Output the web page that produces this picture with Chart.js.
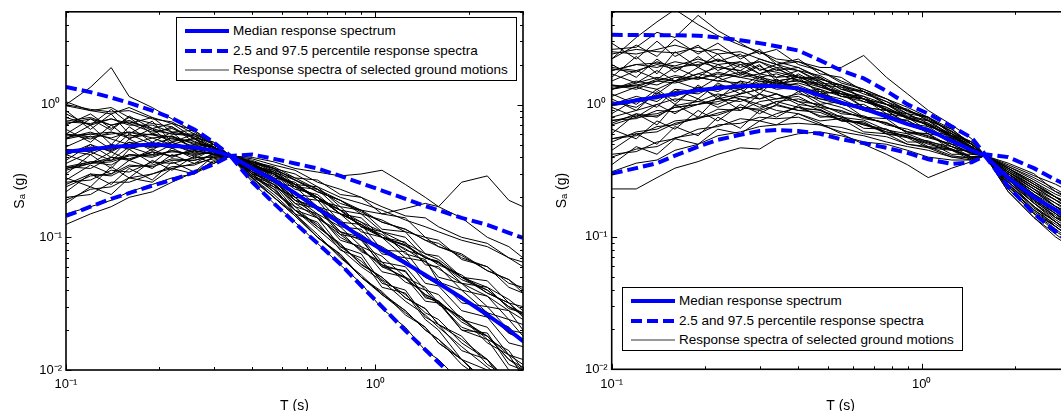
<!DOCTYPE html>
<html>
<head>
<meta charset="utf-8">
<script src="https://cdn.jsdelivr.net/npm/chart.js@4.4.1/dist/chart.umd.min.js"></script>
<style>
  html, body { margin: 0; padding: 0; background: #fff; width: 1061px; height: 411px; overflow: hidden; }
  .panel { position: absolute; top: 0; }
  .legend {
    position: absolute; box-sizing: border-box; width: 341px; height: 64px;
    border: 1px solid #000; background: #fff; color: #000;
    font: 13.5px "Liberation Sans", Arial, sans-serif;
  }
  .legend .row { position: absolute; left: 0; height: 16px; line-height: 16px; white-space: nowrap; }
  .legend svg { position: absolute; left: 8px; top: 5px; }
  .legend span { position: absolute; left: 56px; top: 0; }
</style>
</head>
<body>

<div class="panel" style="left:0;width:530px;height:411px">
  <canvas id="leftChart" width="530" height="411"></canvas>
</div>
<div class="panel" style="left:530px;width:547px;height:411px">
  <canvas id="rightChart" width="547" height="411"></canvas>
</div>

<div class="legend" id="legendLeft" style="left:176px;top:17px"></div>
<div class="legend" id="legendRight" style="left:622px;top:287px"></div>

<script>
// ---- data ----
const periods = [0.1, 0.12, 0.14, 0.16, 0.19, 0.22, 0.26, 0.3, 0.34, 0.4, 0.47, 0.55,
                 0.65, 0.77, 0.9, 1.05, 1.25, 1.45, 1.6, 1.9, 2.3, 2.7, 3.0];

const xDecades = [0.1, 1];
const xDecadeLabels = ["10⁻¹", "10⁰"];
const yDecades = [0.01, 0.1, 1];
const yDecadeLabels = ["10⁻²", "10⁻¹", "10⁰"];

const legendLabels = [
  "Median response spectrum",
  "2.5 and 97.5 percentile response spectra",
  "Response spectra of selected ground motions"
];

// left panel: conditioned at T = 0.34 s
const leftMedian = [0.44, 0.46, 0.48, 0.49, 0.50, 0.49, 0.475, 0.45, 0.41, 0.33, 0.27, 0.215,
                    0.165, 0.128, 0.10, 0.081, 0.064, 0.052, 0.045, 0.035, 0.026, 0.02, 0.0165];
const leftUpper = [1.36, 1.24, 1.13, 1.03, 0.90, 0.79, 0.65, 0.52, 0.41, 0.42, 0.39, 0.36,
                   0.33, 0.29, 0.255, 0.225, 0.195, 0.172, 0.16, 0.14, 0.124, 0.108, 0.099];
const leftLower = [0.145, 0.17, 0.195, 0.215, 0.245, 0.27, 0.31, 0.355, 0.41, 0.26, 0.18, 0.128,
                   0.09, 0.063, 0.043, 0.03, 0.0198, 0.0142, 0.0114, 0.0078, 0.0051, 0.0036, 0.0029];

const leftMotions = [
  [1.0, 1.35, 1.9, 1.15, 0.95, 0.78, 0.62, 0.5, 0.41, 0.36, 0.30, 0.25, 0.2, 0.16, 0.12, 0.1, 0.082, 0.065, 0.058, 0.045, 0.036, 0.028, 0.024],
  [0.125, 0.15, 0.17, 0.2, 0.22, 0.26, 0.31, 0.37, 0.41, 0.29, 0.22, 0.16, 0.115, 0.082, 0.06, 0.047, 0.033, 0.026, 0.021, 0.015, 0.0105, 0.008, 0.0062],
  [0.42, 0.5, 0.44, 0.52, 0.47, 0.5, 0.44, 0.47, 0.41, 0.37, 0.31, 0.27, 0.22, 0.19, 0.16, 0.15, 0.165, 0.18, 0.17, 0.26, 0.29, 0.19, 0.17],
  [0.75, 0.8, 0.7, 0.74, 0.66, 0.6, 0.58, 0.5, 0.41, 0.4, 0.37, 0.33, 0.31, 0.29, 0.3, 0.32, 0.25, 0.2, 0.17, 0.14, 0.1, 0.085, 0.07],
  [0.98, 0.9, 0.95, 0.8, 0.72, 0.68, 0.55, 0.48, 0.41, 0.38, 0.33, 0.3, 0.24, 0.2, 0.18, 0.16, 0.135, 0.12, 0.11, 0.095, 0.085, 0.07, 0.06],
  [0.8, 0.7, 0.78, 0.72, 0.62, 0.66, 0.56, 0.47, 0.41, 0.35, 0.31, 0.25, 0.2, 0.16, 0.13, 0.11, 0.09, 0.075, 0.068, 0.05, 0.042, 0.034, 0.028],
  [0.6, 0.55, 0.62, 0.58, 0.6, 0.53, 0.55, 0.46, 0.41, 0.34, 0.28, 0.22, 0.17, 0.135, 0.1, 0.085, 0.066, 0.05, 0.046, 0.034, 0.027, 0.019, 0.017],
  [0.56, 0.62, 0.55, 0.5, 0.56, 0.5, 0.46, 0.45, 0.41, 0.31, 0.25, 0.19, 0.145, 0.1, 0.082, 0.06, 0.05, 0.037, 0.033, 0.023, 0.018, 0.012, 0.0105],
  [0.45, 0.42, 0.5, 0.46, 0.52, 0.47, 0.5, 0.44, 0.41, 0.36, 0.3, 0.25, 0.19, 0.16, 0.12, 0.105, 0.08, 0.072, 0.062, 0.052, 0.038, 0.032, 0.025],
  [0.34, 0.37, 0.35, 0.42, 0.4, 0.45, 0.42, 0.44, 0.41, 0.32, 0.27, 0.22, 0.16, 0.13, 0.1, 0.078, 0.066, 0.05, 0.044, 0.036, 0.025, 0.021, 0.016],
  [0.26, 0.27, 0.32, 0.31, 0.37, 0.36, 0.4, 0.4, 0.41, 0.37, 0.32, 0.28, 0.23, 0.18, 0.16, 0.13, 0.115, 0.095, 0.09, 0.07, 0.06, 0.045, 0.042],
  [0.2, 0.21, 0.26, 0.26, 0.3, 0.34, 0.35, 0.4, 0.41, 0.3, 0.22, 0.17, 0.12, 0.09, 0.062, 0.05, 0.035, 0.029, 0.022, 0.017, 0.012, 0.008, 0.007],
  [0.15, 0.17, 0.19, 0.22, 0.25, 0.28, 0.3, 0.36, 0.41, 0.27, 0.2, 0.145, 0.1, 0.075, 0.05, 0.039, 0.026, 0.021, 0.016, 0.012, 0.008, 0.0055, 0.0045],
  [0.72, 0.78, 0.7, 0.76, 0.64, 0.6, 0.6, 0.5, 0.41, 0.3, 0.23, 0.16, 0.125, 0.085, 0.066, 0.048, 0.037, 0.027, 0.024, 0.016, 0.012, 0.0082, 0.0068],
  [0.32, 0.36, 0.4, 0.38, 0.44, 0.41, 0.45, 0.42, 0.41, 0.39, 0.35, 0.32, 0.26, 0.23, 0.2, 0.17, 0.145, 0.14, 0.12, 0.1, 0.09, 0.07, 0.065],
  [0.6, 0.57, 0.6, 0.62, 0.56, 0.58, 0.5, 0.48, 0.41, 0.28, 0.21, 0.15, 0.105, 0.07, 0.052, 0.037, 0.028, 0.02, 0.017, 0.012, 0.0078, 0.0058, 0.0045],
  [0.42, 0.48, 0.45, 0.52, 0.48, 0.52, 0.46, 0.47, 0.41, 0.31, 0.24, 0.2, 0.14, 0.11, 0.078, 0.065, 0.046, 0.04, 0.031, 0.025, 0.017, 0.014, 0.01],
  [0.24, 0.29, 0.3, 0.35, 0.34, 0.38, 0.38, 0.42, 0.41, 0.26, 0.18, 0.13, 0.09, 0.062, 0.045, 0.029, 0.021, 0.014, 0.012, 0.008, 0.0052, 0.0037, 0.003],
  [1.0, 0.92, 0.88, 0.9, 0.78, 0.74, 0.6, 0.52, 0.41, 0.34, 0.27, 0.22, 0.16, 0.13, 0.095, 0.082, 0.062, 0.053, 0.044, 0.036, 0.025, 0.021, 0.016],
  [0.34, 0.33, 0.4, 0.39, 0.44, 0.41, 0.45, 0.42, 0.41, 0.29, 0.23, 0.16, 0.12, 0.088, 0.063, 0.05, 0.035, 0.029, 0.022, 0.018, 0.011, 0.0088, 0.0065],
  [0.58, 0.6, 0.56, 0.62, 0.59, 0.55, 0.53, 0.46, 0.41, 0.37, 0.33, 0.27, 0.23, 0.19, 0.15, 0.135, 0.11, 0.1, 0.085, 0.075, 0.056, 0.048, 0.038],
  [0.19, 0.23, 0.24, 0.28, 0.3, 0.33, 0.36, 0.39, 0.41, 0.35, 0.29, 0.25, 0.2, 0.15, 0.125, 0.1, 0.088, 0.07, 0.065, 0.048, 0.04, 0.03, 0.027],
  [0.46, 0.44, 0.5, 0.47, 0.5, 0.47, 0.49, 0.44, 0.41, 0.28, 0.2, 0.15, 0.1, 0.072, 0.05, 0.038, 0.028, 0.02, 0.017, 0.011, 0.008, 0.0055, 0.0045],
  [0.74, 0.72, 0.78, 0.7, 0.7, 0.62, 0.58, 0.48, 0.41, 0.33, 0.28, 0.21, 0.17, 0.125, 0.105, 0.08, 0.065, 0.05, 0.046, 0.034, 0.027, 0.019, 0.017],
  [0.25, 0.3, 0.29, 0.34, 0.35, 0.39, 0.38, 0.41, 0.41, 0.35, 0.3, 0.24, 0.2, 0.15, 0.13, 0.1, 0.087, 0.07, 0.064, 0.05, 0.038, 0.032, 0.026],
  [0.55, 0.6, 0.62, 0.56, 0.6, 0.57, 0.51, 0.48, 0.41, 0.31, 0.25, 0.18, 0.14, 0.105, 0.08, 0.062, 0.049, 0.037, 0.033, 0.024, 0.018, 0.013, 0.011],
  [0.33, 0.36, 0.37, 0.41, 0.42, 0.44, 0.43, 0.43, 0.41, 0.28, 0.2, 0.145, 0.1, 0.074, 0.05, 0.037, 0.027, 0.021, 0.016, 0.012, 0.0078, 0.0055, 0.0044],
  [1.05, 0.9, 0.85, 0.95, 0.8, 0.72, 0.64, 0.5, 0.41, 0.35, 0.3, 0.24, 0.2, 0.15, 0.125, 0.1, 0.086, 0.07, 0.065, 0.05, 0.04, 0.03, 0.026],
  [0.43, 0.47, 0.46, 0.5, 0.48, 0.5, 0.47, 0.46, 0.41, 0.33, 0.27, 0.21, 0.17, 0.125, 0.1, 0.08, 0.065, 0.051, 0.046, 0.034, 0.027, 0.019, 0.017],
  [0.33, 0.37, 0.38, 0.42, 0.41, 0.45, 0.41, 0.45, 0.41, 0.37, 0.33, 0.27, 0.22, 0.19, 0.155, 0.13, 0.115, 0.095, 0.085, 0.073, 0.056, 0.048, 0.04],
  [0.55, 0.7, 0.5, 0.68, 0.52, 0.62, 0.45, 0.5, 0.41, 0.3, 0.26, 0.17, 0.15, 0.095, 0.085, 0.055, 0.05, 0.033, 0.032, 0.02, 0.017, 0.01, 0.009],
  [0.3, 0.42, 0.33, 0.46, 0.36, 0.47, 0.39, 0.46, 0.41, 0.35, 0.26, 0.24, 0.17, 0.15, 0.11, 0.1, 0.07, 0.066, 0.05, 0.045, 0.03, 0.028, 0.02],
  [0.9, 0.65, 0.85, 0.6, 0.75, 0.52, 0.6, 0.44, 0.41, 0.33, 0.3, 0.2, 0.19, 0.12, 0.115, 0.075, 0.07, 0.045, 0.043, 0.028, 0.025, 0.016, 0.015],
  [0.22, 0.3, 0.25, 0.33, 0.27, 0.37, 0.31, 0.41, 0.41, 0.31, 0.28, 0.19, 0.17, 0.11, 0.1, 0.065, 0.06, 0.04, 0.037, 0.024, 0.021, 0.013, 0.012],
  [0.65, 0.52, 0.7, 0.55, 0.66, 0.5, 0.56, 0.42, 0.41, 0.36, 0.33, 0.25, 0.24, 0.17, 0.16, 0.115, 0.11, 0.075, 0.072, 0.05, 0.047, 0.032, 0.03],
  [0.38, 0.5, 0.4, 0.55, 0.45, 0.58, 0.46, 0.5, 0.41, 0.29, 0.25, 0.16, 0.14, 0.085, 0.075, 0.045, 0.04, 0.025, 0.022, 0.014, 0.012, 0.007, 0.006],
  [0.28, 0.24, 0.34, 0.28, 0.38, 0.32, 0.41, 0.36, 0.41, 0.33, 0.31, 0.21, 0.2, 0.13, 0.125, 0.08, 0.078, 0.05, 0.048, 0.032, 0.03, 0.02, 0.019],
  [0.48, 0.58, 0.46, 0.6, 0.5, 0.56, 0.48, 0.5, 0.41, 0.34, 0.3, 0.23, 0.21, 0.15, 0.14, 0.1, 0.092, 0.062, 0.06, 0.04, 0.036, 0.024, 0.022],
  [0.7, 0.85, 0.66, 0.8, 0.6, 0.68, 0.52, 0.48, 0.41, 0.37, 0.34, 0.28, 0.27, 0.21, 0.2, 0.15, 0.14, 0.1, 0.095, 0.068, 0.06, 0.042, 0.038],
  [0.18, 0.24, 0.21, 0.28, 0.26, 0.33, 0.3, 0.38, 0.41, 0.28, 0.24, 0.15, 0.13, 0.08, 0.07, 0.042, 0.038, 0.024, 0.02, 0.012, 0.01, 0.006, 0.005],
  [0.42, 0.36, 0.44, 0.38, 0.46, 0.4, 0.47, 0.42, 0.41, 0.36, 0.28, 0.26, 0.19, 0.17, 0.12, 0.11, 0.075, 0.068, 0.046, 0.04, 0.027, 0.024, 0.018],
  [0.6, 0.78, 0.64, 0.82, 0.66, 0.72, 0.56, 0.52, 0.41, 0.31, 0.27, 0.19, 0.165, 0.11, 0.095, 0.062, 0.055, 0.036, 0.032, 0.021, 0.018, 0.012, 0.01],
  [0.27, 0.35, 0.3, 0.38, 0.33, 0.42, 0.36, 0.43, 0.41, 0.34, 0.32, 0.24, 0.23, 0.16, 0.15, 0.11, 0.1, 0.07, 0.066, 0.045, 0.042, 0.029, 0.027],
  [0.85, 0.7, 0.92, 0.72, 0.8, 0.62, 0.64, 0.5, 0.41, 0.32, 0.26, 0.2, 0.15, 0.12, 0.085, 0.072, 0.05, 0.042, 0.032, 0.025, 0.016, 0.013, 0.009],
  [0.36, 0.44, 0.38, 0.48, 0.42, 0.5, 0.43, 0.47, 0.41, 0.3, 0.27, 0.18, 0.165, 0.105, 0.098, 0.06, 0.056, 0.035, 0.033, 0.02, 0.019, 0.011, 0.01]
];

// right panel: conditioned at T = 1.6 s
const rightMedian = [1.0, 1.07, 1.14, 1.2, 1.28, 1.33, 1.37, 1.38, 1.37, 1.32, 1.17, 1.03,
                     0.93, 0.81, 0.71, 0.64, 0.53, 0.45, 0.41, 0.28, 0.2, 0.16, 0.135];
const rightUpper = [3.35, 3.34, 3.33, 3.32, 3.3, 3.2, 3.05, 2.9, 2.75, 2.55, 2.15, 1.8,
                    1.57, 1.26, 1.0, 0.85, 0.68, 0.56, 0.42, 0.40, 0.33, 0.27, 0.24];
const rightLower = [0.3, 0.33, 0.36, 0.41, 0.48, 0.54, 0.59, 0.63, 0.64, 0.63, 0.6, 0.545,
                    0.51, 0.47, 0.43, 0.385, 0.355, 0.365, 0.41, 0.24, 0.15, 0.11, 0.09];

const rightMotions = [
  [2.2, 3.2, 4.2, 5.2, 4.0, 3.3, 2.8, 2.5, 2.1, 1.9, 1.6, 1.3, 1.15, 1.0, 0.85, 0.72, 0.6, 0.48, 0.41, 0.3, 0.22, 0.18, 0.15],
  [2.6, 2.7, 3.5, 3.2, 4.7, 3.6, 2.9, 2.4, 2.6, 2.0, 1.8, 1.45, 1.3, 1.1, 0.95, 0.8, 0.62, 0.52, 0.41, 0.33, 0.26, 0.2, 0.17],
  [1.3, 1.45, 1.6, 1.5, 1.7, 1.9, 1.8, 2.2, 2.0, 2.1, 1.9, 1.9, 2.34, 1.6, 1.2, 0.9, 0.7, 0.55, 0.41, 0.36, 0.3, 0.22, 0.2],
  [0.8, 0.9, 1.0, 1.1, 1.05, 1.2, 1.1, 1.0, 0.9, 0.85, 0.72, 0.6, 0.5, 0.42, 0.35, 0.28, 0.33, 0.37, 0.41, 0.25, 0.15, 0.12, 0.1],
  [0.23, 0.23, 0.28, 0.33, 0.37, 0.42, 0.47, 0.46, 0.55, 0.6, 0.62, 0.58, 0.52, 0.5, 0.45, 0.4, 0.38, 0.38, 0.41, 0.26, 0.17, 0.13, 0.11],
  [2.5, 2.4, 2.6, 2.8, 2.5, 2.6, 2.3, 2.5, 2.2, 2.1, 1.8, 1.5, 1.3, 1.1, 0.9, 0.8, 0.65, 0.5, 0.41, 0.33, 0.26, 0.21, 0.19],
  [1.8, 2.0, 1.9, 2.1, 1.95, 2.2, 1.9, 2.1, 1.8, 1.9, 1.55, 1.4, 1.2, 1.05, 0.85, 0.8, 0.6, 0.5, 0.41, 0.31, 0.23, 0.19, 0.17],
  [1.4, 1.35, 1.55, 1.5, 1.7, 1.6, 1.75, 1.6, 1.7, 1.5, 1.4, 1.15, 1.1, 0.9, 0.8, 0.7, 0.58, 0.46, 0.41, 0.29, 0.22, 0.17, 0.15],
  [1.0, 1.1, 1.1, 1.25, 1.2, 1.4, 1.3, 1.45, 1.3, 1.35, 1.1, 1.05, 0.9, 0.83, 0.7, 0.62, 0.55, 0.44, 0.41, 0.28, 0.2, 0.16, 0.13],
  [0.75, 0.82, 0.85, 0.95, 1.0, 1.1, 1.05, 1.2, 1.1, 1.15, 0.95, 0.9, 0.78, 0.73, 0.62, 0.6, 0.48, 0.43, 0.41, 0.26, 0.18, 0.14, 0.12],
  [0.55, 0.58, 0.68, 0.7, 0.8, 0.83, 0.95, 0.9, 0.98, 0.9, 0.87, 0.75, 0.72, 0.62, 0.58, 0.51, 0.46, 0.4, 0.41, 0.24, 0.16, 0.125, 0.105],
  [0.4, 0.46, 0.48, 0.56, 0.6, 0.7, 0.72, 0.8, 0.78, 0.8, 0.7, 0.67, 0.6, 0.57, 0.5, 0.48, 0.41, 0.39, 0.41, 0.23, 0.15, 0.115, 0.095],
  [1.9, 1.8, 2.0, 1.85, 2.1, 1.9, 1.8, 1.6, 1.5, 1.3, 1.05, 0.95, 0.8, 0.72, 0.62, 0.56, 0.5, 0.43, 0.41, 0.27, 0.19, 0.15, 0.12],
  [0.72, 0.85, 0.8, 0.98, 1.05, 1.0, 1.2, 1.3, 1.5, 1.6, 1.55, 1.4, 1.25, 1.05, 0.9, 0.78, 0.62, 0.5, 0.41, 0.33, 0.25, 0.2, 0.18],
  [1.05, 0.95, 1.2, 1.15, 1.35, 1.25, 1.5, 1.4, 1.55, 1.3, 1.25, 1.0, 0.95, 0.8, 0.75, 0.64, 0.52, 0.46, 0.41, 0.3, 0.21, 0.17, 0.14],
  [1.3, 1.5, 1.4, 1.6, 1.55, 1.75, 1.6, 1.7, 1.6, 1.65, 1.35, 1.25, 1.05, 0.95, 0.78, 0.72, 0.56, 0.48, 0.41, 0.31, 0.23, 0.18, 0.16],
  [0.52, 0.62, 0.65, 0.75, 0.78, 0.92, 0.9, 1.05, 1.1, 1.2, 1.1, 1.0, 0.92, 0.8, 0.72, 0.63, 0.53, 0.45, 0.41, 0.29, 0.2, 0.16, 0.14],
  [2.4, 2.6, 2.5, 2.45, 2.7, 2.4, 2.5, 2.2, 2.0, 1.8, 1.5, 1.25, 1.1, 0.95, 0.8, 0.7, 0.57, 0.47, 0.41, 0.28, 0.19, 0.14, 0.12],
  [0.76, 0.78, 0.9, 0.88, 1.0, 1.05, 1.15, 1.1, 1.2, 1.05, 1.0, 0.85, 0.82, 0.7, 0.65, 0.57, 0.5, 0.42, 0.41, 0.27, 0.19, 0.15, 0.125],
  [1.35, 1.4, 1.5, 1.45, 1.6, 1.5, 1.45, 1.3, 1.2, 1.05, 0.9, 0.8, 0.7, 0.62, 0.57, 0.5, 0.45, 0.4, 0.41, 0.25, 0.165, 0.13, 0.105],
  [0.98, 1.05, 1.15, 1.2, 1.25, 1.3, 1.4, 1.35, 1.4, 1.3, 1.2, 1.0, 0.95, 0.8, 0.7, 0.65, 0.53, 0.45, 0.41, 0.28, 0.2, 0.155, 0.13],
  [1.85, 1.75, 2.1, 1.9, 2.0, 2.15, 2.0, 2.1, 1.9, 1.8, 1.65, 1.35, 1.25, 1.0, 0.9, 0.76, 0.63, 0.5, 0.41, 0.32, 0.24, 0.2, 0.18],
  [0.42, 0.44, 0.52, 0.55, 0.65, 0.68, 0.78, 0.75, 0.85, 0.95, 0.82, 0.78, 0.7, 0.65, 0.56, 0.53, 0.46, 0.4, 0.41, 0.24, 0.155, 0.12, 0.1],
  [1.4, 1.3, 1.5, 1.65, 1.55, 1.7, 1.6, 1.5, 1.45, 1.35, 1.2, 1.05, 0.9, 0.82, 0.7, 0.65, 0.52, 0.45, 0.41, 0.29, 0.21, 0.16, 0.14],
  [0.7, 0.8, 0.82, 0.95, 1.0, 1.1, 1.2, 1.3, 1.45, 1.5, 1.35, 1.2, 1.1, 0.92, 0.8, 0.7, 0.58, 0.47, 0.41, 0.3, 0.22, 0.17, 0.15],
  [1.8, 2.0, 2.05, 1.95, 2.2, 2.0, 2.1, 1.85, 1.75, 1.6, 1.4, 1.2, 1.1, 0.9, 0.8, 0.7, 0.55, 0.47, 0.41, 0.27, 0.18, 0.135, 0.115],
  [0.55, 0.6, 0.62, 0.72, 0.78, 0.86, 0.95, 0.92, 1.05, 1.1, 0.98, 0.88, 0.8, 0.72, 0.62, 0.58, 0.48, 0.43, 0.41, 0.27, 0.185, 0.145, 0.12],
  [1.0, 1.15, 1.05, 1.3, 1.25, 1.35, 1.3, 1.5, 1.35, 1.45, 1.3, 1.15, 1.05, 0.92, 0.78, 0.7, 0.58, 0.48, 0.41, 0.31, 0.24, 0.19, 0.16],
  [1.3, 1.4, 1.3, 1.5, 1.6, 1.5, 1.7, 1.55, 1.45, 1.4, 1.2, 1.1, 0.92, 0.85, 0.72, 0.62, 0.54, 0.44, 0.41, 0.28, 0.2, 0.15, 0.13],
  [0.31, 0.36, 0.38, 0.45, 0.5, 0.58, 0.62, 0.68, 0.7, 0.72, 0.7, 0.62, 0.58, 0.52, 0.48, 0.45, 0.4, 0.38, 0.41, 0.22, 0.14, 0.105, 0.088],
  [1.6, 2.3, 1.7, 2.5, 1.9, 2.4, 1.7, 2.0, 1.5, 1.6, 1.2, 1.25, 0.95, 0.9, 0.7, 0.66, 0.5, 0.47, 0.41, 0.3, 0.23, 0.17, 0.15],
  [0.6, 0.85, 0.7, 1.0, 0.8, 1.15, 0.9, 1.2, 1.0, 1.25, 1.0, 1.05, 0.8, 0.78, 0.6, 0.6, 0.45, 0.45, 0.41, 0.27, 0.2, 0.14, 0.13],
  [2.9, 2.2, 3.0, 2.3, 2.8, 2.1, 2.4, 1.8, 2.0, 1.6, 1.5, 1.2, 1.15, 0.9, 0.85, 0.68, 0.6, 0.46, 0.41, 0.34, 0.28, 0.23, 0.2],
  [1.1, 0.9, 1.25, 1.0, 1.4, 1.1, 1.5, 1.2, 1.55, 1.25, 1.3, 1.0, 1.0, 0.8, 0.76, 0.6, 0.56, 0.43, 0.41, 0.26, 0.18, 0.13, 0.11],
  [0.45, 0.6, 0.5, 0.68, 0.58, 0.8, 0.66, 0.9, 0.8, 0.98, 0.8, 0.82, 0.66, 0.65, 0.52, 0.52, 0.42, 0.42, 0.41, 0.25, 0.17, 0.12, 0.1],
  [2.0, 1.6, 2.2, 1.75, 2.3, 1.8, 2.1, 1.7, 1.9, 1.5, 1.45, 1.15, 1.1, 0.85, 0.8, 0.63, 0.58, 0.45, 0.41, 0.32, 0.25, 0.2, 0.17],
  [0.85, 1.1, 0.95, 1.3, 1.1, 1.45, 1.2, 1.6, 1.35, 1.7, 1.4, 1.35, 1.1, 1.0, 0.82, 0.76, 0.58, 0.52, 0.41, 0.34, 0.27, 0.22, 0.19],
  [1.2, 1.0, 1.3, 1.05, 1.35, 1.15, 1.3, 1.1, 1.2, 1.0, 0.95, 0.8, 0.76, 0.64, 0.6, 0.52, 0.48, 0.4, 0.41, 0.24, 0.16, 0.12, 0.1],
  [0.35, 0.48, 0.42, 0.55, 0.5, 0.65, 0.6, 0.75, 0.7, 0.85, 0.75, 0.78, 0.62, 0.6, 0.5, 0.47, 0.4, 0.4, 0.41, 0.23, 0.15, 0.11, 0.095],
  [1.7, 1.45, 1.8, 1.5, 1.9, 1.6, 2.0, 1.7, 1.85, 1.6, 1.6, 1.3, 1.25, 1.0, 0.92, 0.75, 0.65, 0.5, 0.41, 0.35, 0.29, 0.25, 0.22],
  [0.65, 0.55, 0.75, 0.65, 0.9, 0.75, 1.0, 0.85, 1.0, 0.9, 0.92, 0.75, 0.74, 0.6, 0.58, 0.48, 0.46, 0.39, 0.41, 0.25, 0.17, 0.13, 0.11],
  [1.15, 1.35, 1.2, 1.5, 1.3, 1.6, 1.35, 1.65, 1.4, 1.55, 1.25, 1.2, 0.95, 0.9, 0.72, 0.68, 0.52, 0.48, 0.41, 0.29, 0.21, 0.16, 0.14],
  [2.2, 2.8, 2.3, 3.1, 2.4, 2.9, 2.2, 2.6, 2.0, 2.2, 1.7, 1.6, 1.25, 1.1, 0.88, 0.8, 0.6, 0.52, 0.41, 0.33, 0.25, 0.2, 0.17],
  [0.95, 0.8, 1.0, 0.85, 1.1, 0.95, 1.1, 0.95, 1.05, 0.95, 0.9, 0.76, 0.72, 0.6, 0.56, 0.47, 0.45, 0.38, 0.41, 0.22, 0.14, 0.1, 0.085],
  [1.5, 1.8, 1.55, 1.9, 1.6, 2.0, 1.65, 1.95, 1.6, 1.8, 1.45, 1.4, 1.1, 1.0, 0.8, 0.75, 0.57, 0.5, 0.41, 0.31, 0.24, 0.19, 0.16]
];

// ---- helpers ----
const FONT = "'Liberation Sans', Arial, Helvetica, sans-serif";
const BLUE = "#0000ff";

function decadeLabel(values, labels) {
  return function (v) {
    const i = values.findIndex(d => Math.abs(v / d - 1) < 1e-6);
    return i < 0 ? null : labels[i];
  };
}

function logSteps(min, max) {
  const out = [];
  for (let e = Math.floor(Math.log10(min)); e <= Math.ceil(Math.log10(max)); e++) {
    for (let k = 1; k < 10; k++) {
      const v = k * Math.pow(10, e);
      if (v >= min * 0.999 && v <= max * 1.001) out.push([v, k === 1]);
    }
  }
  return out;
}

// MATLAB-like box with inward ticks on all four sides
const axisFrame = {
  id: "axisFrame",
  afterDraw(chart) {
    const { ctx, chartArea: a } = chart;
    const xs = chart.scales.x, ys = chart.scales.y;
    ctx.save();
    ctx.strokeStyle = "#000";
    ctx.lineWidth = 1;
    ctx.beginPath();
    logSteps(xs.min, xs.max).forEach(([v, major]) => {
      const px = Math.round(xs.getPixelForValue(v)) + 0.5;
      const len = major ? 5.5 : 3;
      ctx.moveTo(px, a.bottom); ctx.lineTo(px, a.bottom - len);
      ctx.moveTo(px, a.top); ctx.lineTo(px, a.top + len);
    });
    logSteps(ys.min, ys.max).forEach(([v, major]) => {
      const py = Math.round(ys.getPixelForValue(v)) + 0.5;
      const len = major ? 5.5 : 3;
      ctx.moveTo(a.left, py); ctx.lineTo(a.left + len, py);
      ctx.moveTo(a.right, py); ctx.lineTo(a.right - len, py);
    });
    ctx.stroke();
    ctx.lineWidth = 1.6;
    ctx.strokeRect(a.left, a.top, a.right - a.left, a.bottom - a.top);
    ctx.restore();
  }
};

function buildChart(id, motions, median, upper, lower, box) {
  const pts = vals => periods.map((t, i) => ({ x: t, y: vals[i] }));
  const line = { pointRadius: 0, tension: 0, fill: false };

  const datasets = [
    { ...line, label: legendLabels[0], data: pts(median), borderColor: BLUE, borderWidth: 4, order: 0 },
    { ...line, label: legendLabels[1], data: pts(upper), borderColor: BLUE, borderWidth: 4, borderDash: [11, 5], order: 0 },
    { ...line, label: legendLabels[1], data: pts(lower), borderColor: BLUE, borderWidth: 4, borderDash: [11, 5], order: 0 }
  ];
  motions.forEach(m => {
    datasets.push({ ...line, label: legendLabels[2], data: pts(m), borderColor: "#000", borderWidth: 1, order: 1 });
  });

  return new Chart(document.getElementById(id), {
    type: "line",
    data: { datasets },
    plugins: [axisFrame],
    options: {
      responsive: false,
      animation: false,
      events: [],
      layout: { padding: { top: box.top, right: box.right, left: 0, bottom: 0 } },
      plugins: { legend: { display: false }, tooltip: { enabled: false } },
      scales: {
        x: {
          type: "logarithmic",
          min: 0.1,
          max: 3,
          grid: { display: false, drawTicks: false },
          border: { display: false },
          ticks: {
            autoSkip: false, maxRotation: 0, padding: 7, color: "#000",
            font: { family: FONT, size: 13 },
            callback: decadeLabel(xDecades, xDecadeLabels)
          },
          title: {
            display: true, text: "T (s)", color: "#000",
            font: { family: FONT, size: 14, lineHeight: 0.72 },
            padding: { top: 0, bottom: 0 }
          },
          afterFit: s => { s.height = box.xh; }
        },
        y: {
          type: "logarithmic",
          min: 0.01,
          max: 5,
          grid: { display: false, drawTicks: false },
          border: { display: false },
          ticks: {
            autoSkip: false, padding: 4, crossAlign: "center", color: "#000",
            font: { family: FONT, size: 13 },
            callback: decadeLabel(yDecades, yDecadeLabels)
          },
          title: {
            display: true, text: "Sₐ (g)", color: "#000",
            font: { family: FONT, size: 14, lineHeight: 1.2 },
            padding: { top: box.tt, bottom: 0 }
          },
          afterFit: s => { s.width = box.yw; }
        }
      }
    }
  });
}

function fillLegend(el) {
  const samples = [
    '<line x1="0" y1="3" x2="44" y2="3" stroke="' + BLUE + '" stroke-width="4"/>',
    '<line x1="0" y1="3" x2="43" y2="3" stroke="' + BLUE + '" stroke-width="4" stroke-dasharray="11 5"/>',
    '<line x1="0" y1="3" x2="44" y2="3" stroke="#333" stroke-width="1"/>'
  ];
  const tops = [5, 25, 44];
  el.innerHTML = legendLabels.map((txt, i) =>
    '<div class="row" style="top:' + tops[i] + 'px"><svg width="44" height="6">' + samples[i] +
    '</svg><span>' + txt + '</span></div>').join("");
}

buildChart("leftChart", leftMotions, leftMedian, leftUpper, leftLower,
  { top: 9.3, right: 7, xh: 41, yw: 66, tt: 11.6 });
buildChart("rightChart", rightMotions, rightMedian, rightUpper, rightLower,
  { top: 7.3, right: 7.4, xh: 41.7, yw: 81.7, tt: 23.6 });

fillLegend(document.getElementById("legendLeft"));
fillLegend(document.getElementById("legendRight"));
</script>
</body>
</html>
